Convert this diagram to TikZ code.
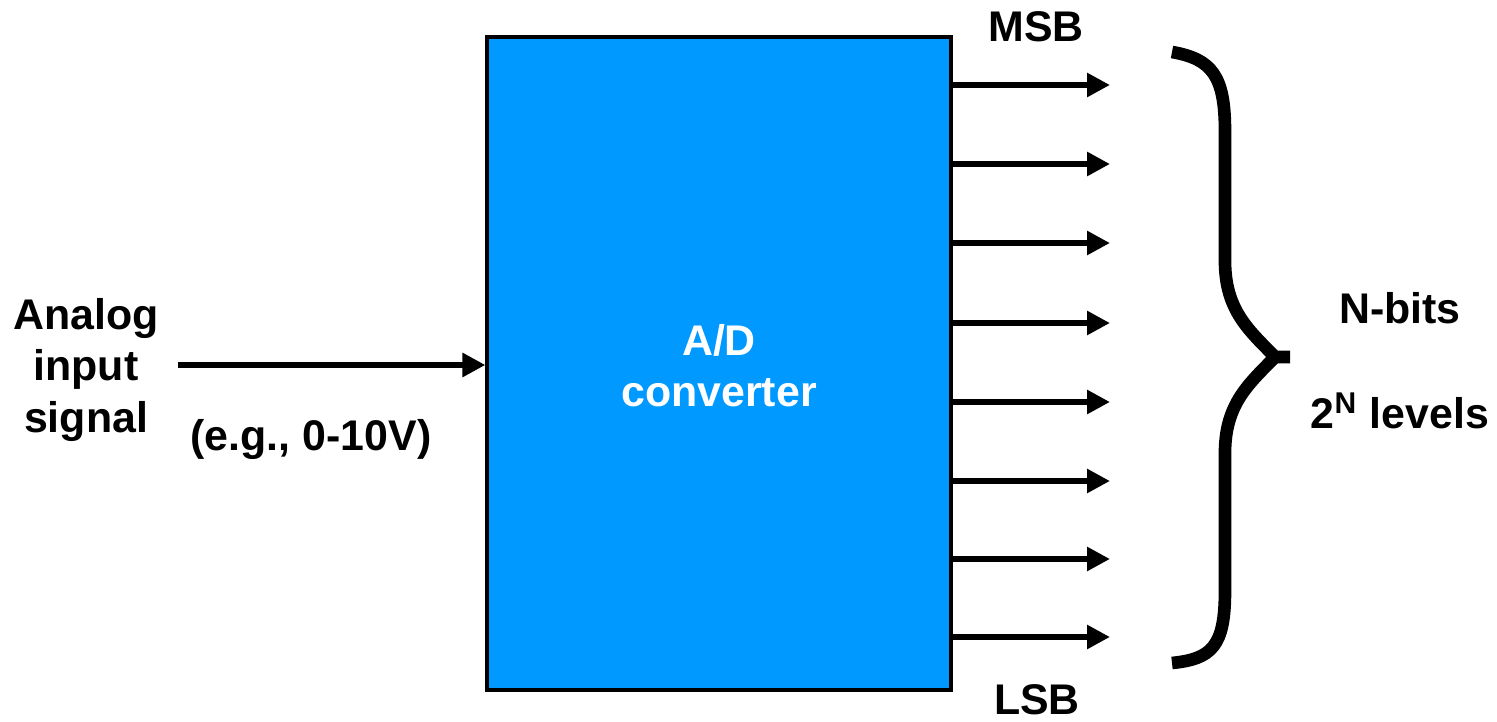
\documentclass[tikz,border=0pt]{standalone}
\usepackage{fontspec}
\setmainfont{Liberation Sans}
\usepackage{xcolor}
\usetikzlibrary{arrows.meta, positioning}

\definecolor{adcblue}{HTML}{0099FF}

\begin{document}
\begin{tikzpicture}[
  txt/.style={font=\fontsize{12.2}{14.6}\selectfont\bfseries, align=center, inner sep=0pt},
  arrow/.style={-{Triangle[length=0.23cm, width=0.23cm]}, line width=1.7pt},
  brace/.style={line width=3.6pt, line join=round}
]
  \useasboundingbox (0,0) rectangle (14.97,7.21);

  \node[draw, line width=0.9pt, fill=adcblue, minimum width=4.64cm,
        minimum height=6.53cm, inner sep=0pt] (adc) at (7.19,3.575) {};
  \node[txt, text=white] (adclbl) at (7.19,3.55) {A/D\\converter};

  \node[txt] (analog) at (0.86,3.51) {Analog\\input\\signal};
  \node[txt] (range)  at (3.11,2.81) {(e.g., 0-10V)};
  \coordinate (in) at (1.78,3.56);
  \draw[arrow] (in) -- (in -| adc.west);

  % output bits
  \foreach \i/\y in {1/85,2/164,3/243,4/323,5/402,6/481,7/559,8/637} {
    \coordinate (s\i) at (9.51,{(721-\y)/100});
    \coordinate (t\i) at (11.10,{(721-\y)/100});
    \draw[arrow] (s\i) -- (t\i);
  }
  \node[txt] (msb) at (10.36,6.94) {MSB};
  \node[txt] (lsb) at (10.37,0.21) {LSB};

  % brace
  \draw[brace] (11.72,6.69) .. controls (12.12,6.62) and (12.25,6.45) .. (12.25,5.9)
    -- (12.25,4.6) .. controls (12.25,4.1) and (12.5,3.9) .. (12.75,3.64) -- (12.9,3.64);
  \draw[brace] (12.75,3.64) .. controls (12.5,3.38) and (12.25,3.18) .. (12.25,2.68)
    -- (12.25,1.3) .. controls (12.25,0.75) and (12.12,0.62) .. (11.72,0.58);

  \node[txt] (nbits)  at (14.00,4.13) {N-bits};
  \node[txt] (levels) at (14.00,3.10) {2\textsuperscript{N} levels};
\end{tikzpicture}
\end{document}
